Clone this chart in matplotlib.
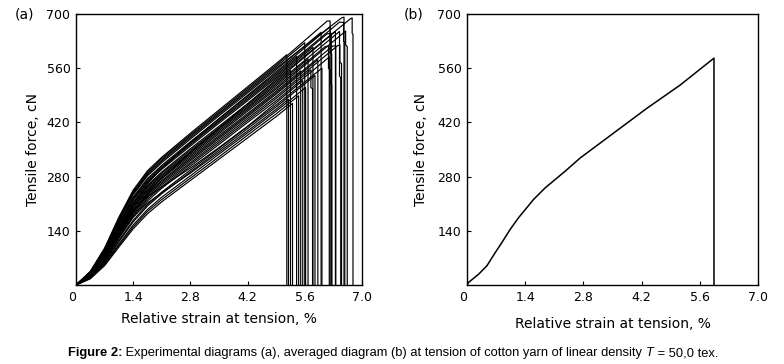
import matplotlib
matplotlib.use("Agg")
import matplotlib.pyplot as plt
import numpy as np

# strain grid (%) shared by the experimental curves of panel (a)
strain_grid = [0, 0.35, 0.7, 1.05, 1.4, 1.75, 2.1, 2.8, 3.5, 4.2, 4.9]

# tensile force (cN) of each specimen at the grid strains
force_curves = [
    [0, 16, 50, 98, 145, 184, 215, 270, 325, 380, 435],
    [0, 17, 52, 102, 150, 190, 221, 276, 331, 387, 442],
    [0, 18, 55, 106, 155, 195, 227, 282, 338, 393, 449],
    [0, 22, 64, 122, 176, 212, 238, 289, 343, 398, 454],
    [0, 19, 58, 112, 163, 204, 236, 292, 348, 404, 460],
    [0, 20, 60, 115, 167, 208, 240, 297, 353, 409, 465],
    [0, 26, 72, 136, 193, 229, 253, 302, 355, 410, 471],
    [0, 22, 64, 121, 175, 217, 250, 307, 363, 420, 476],
    [0, 22, 65, 124, 179, 222, 254, 312, 368, 425, 482],
    [0, 23, 67, 127, 183, 226, 259, 316, 373, 430, 487],
    [0, 24, 69, 130, 187, 231, 263, 321, 378, 435, 493],
    [0, 25, 70, 133, 190, 234, 267, 325, 382, 439, 497],
    [0, 25, 72, 135, 193, 237, 270, 329, 386, 443, 501],
    [0, 26, 73, 138, 197, 242, 275, 333, 391, 449, 506],
    [0, 27, 75, 140, 200, 245, 278, 337, 395, 453, 510],
    [0, 27, 76, 143, 203, 248, 282, 341, 399, 457, 515],
    [0, 28, 78, 145, 206, 252, 285, 344, 403, 460, 519],
    [0, 28, 79, 147, 209, 255, 289, 348, 406, 464, 523],
    [0, 29, 80, 150, 212, 258, 292, 352, 410, 468, 527],
    [0, 24, 66, 128, 188, 238, 276, 342, 405, 468, 531],
    [0, 30, 83, 154, 218, 265, 299, 359, 418, 476, 535],
    [0, 30, 84, 157, 221, 268, 302, 363, 422, 480, 539],
    [0, 31, 86, 159, 224, 272, 306, 366, 425, 484, 543],
    [0, 32, 87, 161, 227, 275, 309, 370, 429, 488, 547],
    [0, 28, 78, 148, 212, 262, 302, 368, 430, 490, 551],
    [0, 33, 90, 166, 233, 282, 316, 377, 437, 496, 556],
    [0, 33, 91, 168, 236, 285, 320, 381, 441, 500, 560],
    [0, 34, 92, 170, 239, 288, 323, 385, 444, 504, 564],
    [0, 34, 94, 173, 242, 292, 327, 388, 448, 508, 568],
    [0, 35, 95, 175, 245, 295, 330, 392, 452, 512, 572],
]

# peak (rupture) point of each specimen
break_strain = [5.30, 5.45, 5.62, 5.20, 5.85, 6.02, 5.55, 6.20, 5.75, 6.40,
                5.92, 6.28, 5.50, 6.60, 6.10, 5.68, 6.45, 5.25, 6.35, 6.72,
                5.80, 6.15, 6.45, 5.40, 6.22, 6.00, 6.50, 5.60, 6.15, 5.16]
break_force = [469, 489, 510, 480, 541, 560, 528, 589, 556, 618,
               582, 617, 553, 656, 616, 584, 655, 554, 655, 688,
               614, 649, 679, 591, 667, 653, 690, 626, 682, 595]

# ruptures that are not a single vertical drop: (strain, force) points after the peak
rupture_steps = {
    8: [(5.75, 510), (5.79, 507), (5.79, 0)],
    9: [(6.46, 620), (6.46, 575), (6.50, 572), (6.50, 0)],
    11: [(6.36, 618), (6.36, 0)],
    13: [(6.60, 620), (6.64, 616), (6.64, 0)],
    14: [(6.18, 617), (6.18, 560), (6.22, 556), (6.22, 0)],
    16: [(6.45, 540), (6.48, 535), (6.48, 0)],
    19: [(6.76, 690), (6.76, 650), (6.78, 648), (6.78, 0)],
    21: [(6.25, 650), (6.25, 0)],
    22: [(6.55, 678), (6.55, 630), (6.58, 626), (6.58, 0)],
    24: [(6.22, 600), (6.26, 596), (6.26, 0)],
    26: [(6.56, 692), (6.56, 0)],
    28: [(6.22, 682), (6.22, 520), (6.26, 518), (6.26, 0)],
}

# averaged diagram, panel (b)
avg_strain = [0, 0.04, 0.28, 0.48, 0.68, 0.84, 1.04, 1.24, 1.44, 1.60,
              1.88, 2.36, 2.72, 3.52, 4.32, 5.12, 5.94, 5.94]
avg_force = [0, 7, 28, 50, 84, 110, 144, 174, 200, 221,
             251, 294, 328, 392, 456, 516, 586, 0]

xticks = [0, 1.4, 2.8, 4.2, 5.6, 7.0]
xticklabels = ["0", "1.4", "2.8", "4.2", "5.6", "7.0"]
yticks = [140, 280, 420, 560, 700]

fig = plt.figure(figsize=(7.84, 3.64), dpi=100)
ax_a = fig.add_axes([0.0969, 0.217, 0.3648, 0.7445])
ax_b = fig.add_axes([0.5957, 0.217, 0.3712, 0.7445])

for i, f in enumerate(force_curves):
    xs = list(strain_grid) + [break_strain[i]]
    ys = list(f) + [break_force[i]]
    if i in rupture_steps:
        for sx, sy in rupture_steps[i]:
            xs.append(sx)
            ys.append(sy)
    else:
        xs.append(break_strain[i])
        ys.append(0)
    ax_a.plot(xs, ys, color="black", lw=0.85)

ax_b.plot(avg_strain, avg_force, color="black", lw=1.1)

for ax, ylab_x, xlab_y in [(ax_a, -0.126, -0.100), (ax_b, -0.134, -0.118)]:
    ax.set_xlim(0, 7.0)
    ax.set_ylim(0, 700)
    ax.set_xticks(xticks)
    ax.set_xticklabels(xticklabels)
    ax.set_yticks(yticks)
    ax.tick_params(direction="in", length=3, width=0.8, labelsize=9,
                   colors="black", pad=4)
    ax.get_xticklabels()[0].set_ha("right")
    for sp in ax.spines.values():
        sp.set_linewidth(1.0)
    ax.set_ylabel("Tensile force, cN", fontsize=10)
    ax.set_xlabel("Relative strain at tension, %", fontsize=10)
    ax.yaxis.set_label_coords(ylab_x, 0.5)
    ax.xaxis.set_label_coords(0.5, xlab_y)

fig.text(25 / 784, 1 - 14 / 364, "(a)", fontsize=10, ha="center", va="center")
fig.text(414 / 784, 1 - 14 / 364, "(b)", fontsize=10, ha="center", va="center")

# caption with mixed styles
parts = [("Figure 2:", {"weight": "bold"}),
         (" Experimental diagrams (a), averaged diagram (b) at tension of cotton yarn of linear density ", {}),
         ("T", {"style": "italic"}),
         (" = 50,0 tex.", {})]
renderer = fig.canvas.get_renderer()
x = 68 / 784
for s, kw in parts:
    t = fig.text(x, 1 - 353 / 364, s, fontsize=9.3, family="Liberation Sans",
                 va="center", ha="left", **kw)
    bb = t.get_window_extent(renderer=renderer)
    x += bb.width / fig.bbox.width

fig.savefig("out.png", dpi=100)
